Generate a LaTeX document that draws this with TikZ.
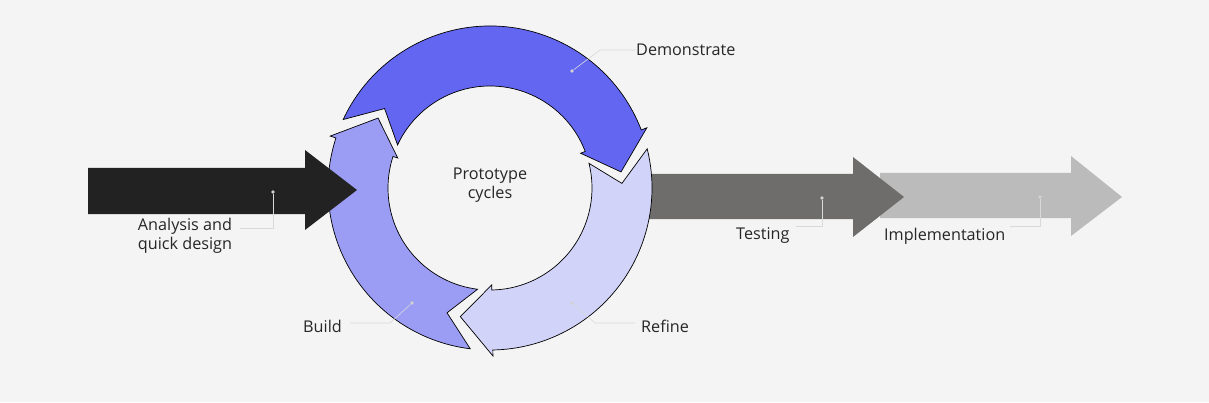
\documentclass[tikz,border=0pt]{standalone}
\usepackage{fontspec}
\setmainfont{Open Sans}
\definecolor{cdemo}{RGB}{99,102,241}
\definecolor{cbuild}{RGB}{155,157,245}
\definecolor{crefine}{RGB}{209,211,249}
\definecolor{cblack}{RGB}{34,34,34}
\definecolor{ctest}{RGB}{110,109,107}
\definecolor{cimpl}{RGB}{187,187,187}
\definecolor{cbg}{RGB}{244,244,244}
\newcommand{\mysegment}[3]{% tail angle, head angle, colour
  \filldraw[seg, fill=#3] (#1:\R) arc[start angle=#1, end angle=#2, radius=\R]
   -- (#2:\R+6) -- ({#2-14}:\m) -- (#2:\r-5) -- (#2:\r)
   arc[start angle=#2, end angle=#1, radius=\r] -- ({#1-12}:\m) -- cycle;}
\begin{document}
\begin{tikzpicture}[x=1pt,y=1pt,
  lbl/.style={font=\fontsize{16.2}{18.5}\selectfont, text=black!85, inner sep=0pt},
  lead/.style={draw=black!15, line width=0.6pt},
  dot/.style={circle, fill=black!18, inner sep=1.4pt},
  seg/.style={draw=black, line width=0.7pt, line join=miter}]
\useasboundingbox (0,0) rectangle (1209,402);
\fill[cbg] (0,0) rectangle (1209,402);
\def\R{162}\def\r{102}\def\m{132}
% straight arrows (y = 402 - image y)
\fill[cimpl] (880,229) -- (1071,229) -- (1071,246) -- (1122,205) -- (1071,166) -- (1071,184) -- (880,184) -- cycle;
\fill[ctest] (645,228) -- (853,228) -- (853,245) -- (904,205) -- (853,165) -- (853,183) -- (645,183) -- cycle;
% circle segments
\begin{scope}[shift={(490,214)}]
 \mysegment{155}{21}{cdemo}
 \mysegment{14}{-89}{crefine}
 \mysegment{263}{162}{cbuild}
\end{scope}
\fill[cblack] (88,234) -- (305,234) -- (305,252) -- (357,212) -- (305,172) -- (305,188) -- (88,188) -- cycle;
% labels and leaders
\node[lbl] (pc) at (490,217) {\shortstack{Prototype\\cycles}};
\node[dot] (d1) at (572,331) {};
\coordinate (d1a) at (600,352);
\node[lbl, anchor=west] (demo) at (636,352) {Demonstrate};
\draw[lead] (d1) -- (d1a) -- (demo.west);
\node[dot] (d2) at (412,99) {};
\coordinate (d2a) at (390,79);
\node[lbl, anchor=east] (build) at (342,76) {Build};
\draw[lead] (d2) -- (d2a) -- (350,79);
\node[dot] (d3) at (572,99) {};
\coordinate (d3a) at (595,79);
\node[lbl, anchor=west] (refine) at (641,76) {Refine};
\draw[lead] (d3) -- (d3a) -- (635,79);
\node[dot] (d4) at (273,210) {};
\coordinate (d4a) at (273,174);
\node[lbl, align=center] (ana) at (185,166) {Analysis and\\quick design};
\draw[lead] (d4) -- (d4a) -- (240,174);
\node[dot] (d5) at (822,204) {};
\coordinate (d5a) at (822,176);
\node[lbl, anchor=west] (test) at (736,166) {Testing};
\draw[lead] (d5) -- (d5a) -- (796,176);
\node[dot] (d6) at (1040,205) {};
\coordinate (d6a) at (1040,176);
\node[lbl, anchor=west] (impl) at (884,166) {Implementation};
\draw[lead] (d6) -- (d6a) -- (1010,176);
\end{tikzpicture}
\end{document}
